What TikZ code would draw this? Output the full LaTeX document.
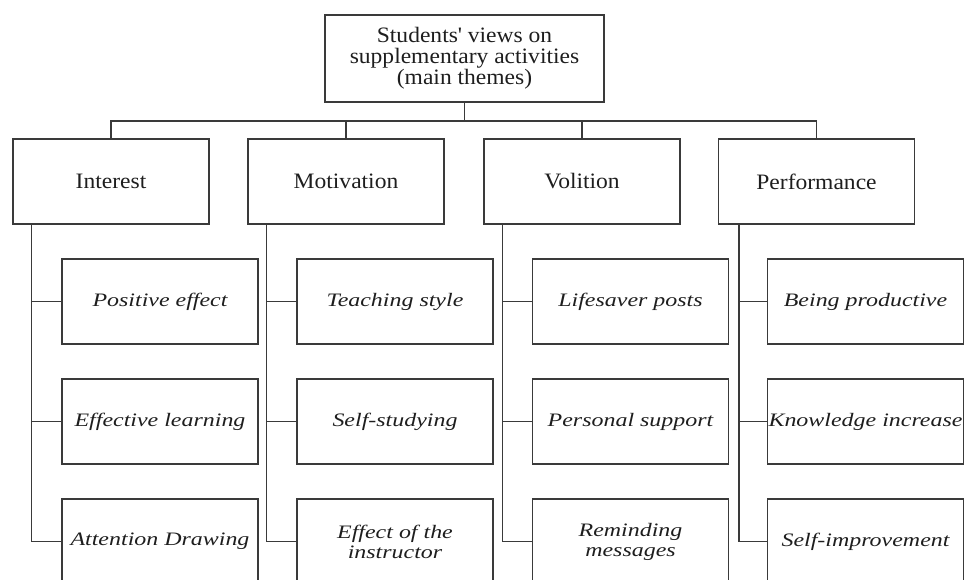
\documentclass[tikz,border=0pt]{standalone}
\usepackage{fontspec}
\setmainfont{Liberation Serif}[FakeStretch=1.07]
\newfontface\subit{Liberation Serif Italic}[FakeStretch=1.26]
\usetikzlibrary{positioning}

\definecolor{linegray}{HTML}{3A3A3A}
\definecolor{textgray}{HTML}{1E1E1E}

\tikzset{
  rootbox/.style={draw=linegray, line width=1.2pt, inner sep=0pt, align=center,
    minimum width=279pt, minimum height=87pt, text=textgray,
    font=\fontsize{22pt}{21pt}\selectfont},
  themebox/.style={draw=linegray, line width=1.2pt, inner sep=0pt, align=center,
    minimum width=196pt, minimum height=85pt, text=textgray,
    font=\fontsize{22pt}{21pt}\selectfont},
  subbox/.style={draw=linegray, line width=1.2pt, inner sep=0pt, align=center,
    minimum width=196pt, minimum height=85pt, text=textgray,
    font=\subit\fontsize{19pt}{20pt}\selectfont},
  link/.style={draw=linegray, line width=1.2pt}
}

\begin{document}
\begin{tikzpicture}[x=1pt, y=-1pt]
\useasboundingbox (0,0) rectangle (965,579);

% main theme
\node[rootbox] (root) at (464.5,58.5) {Students\textquotesingle{} views on\\supplementary activities\\(main themes)};

% themes
\node[themebox] (int)  at (111,181.5)   {Interest};
\node[themebox] (mot)  at (346,181.5)   {Motivation};
\node[themebox] (vol)  at (582,181.5)   {Volition};
\node[themebox] (perf) at (816.5,181.5) {Performance};

% sub themes
\node[subbox] (int1) at (160,301.5) {Positive effect};
\node[subbox] (int2) at (160,421.5) {Effective learning};
\node[subbox] (int3) at (160,541.5) {Attention Drawing};

\node[subbox] (mot1) at (395,301.5) {Teaching style};
\node[subbox] (mot2) at (395,421.5) {Self-studying};
\node[subbox] (mot3) at (395,541.5) {Effect of the\\instructor};

\node[subbox] (vol1) at (630.5,301.5) {Lifesaver posts};
\node[subbox] (vol2) at (630.5,421.5) {Personal support};
\node[subbox] (vol3) at (630.5,541.5) {Reminding\\messages};

\node[subbox] (perf1) at (865.5,301.5) {Being productive};
\node[subbox] (perf2) at (865.5,421.5) {Knowledge increase};
\node[subbox] (perf3) at (865.5,541.5) {Self-improvement};

% bus from the root to the themes
\coordinate (bus) at (0,121);
\draw[link] (root.south) -- (root.south |- bus);
\draw[link] (int.north) |- (bus -| perf.north) -- (perf.north);
\draw[link] (mot.north) -- (mot.north |- bus);
\draw[link] (vol.north) -- (vol.north |- bus);

% trunks down to the sub themes
\coordinate (intT)  at ([xshift=19pt]int.south west);
\coordinate (motT)  at ([xshift=19pt]mot.south west);
\coordinate (volT)  at ([xshift=19pt]vol.south west);
\coordinate (perfT) at ([xshift=21pt]perf.south west);

\draw[link] (intT) |- (int1.west);  \draw[link] (intT) |- (int2.west);  \draw[link] (intT) |- (int3.west);
\draw[link] (motT) |- (mot1.west);  \draw[link] (motT) |- (mot2.west);  \draw[link] (motT) |- (mot3.west);
\draw[link] (volT) |- (vol1.west);  \draw[link] (volT) |- (vol2.west);  \draw[link] (volT) |- (vol3.west);
\draw[link] (perfT) |- (perf1.west); \draw[link] (perfT) |- (perf2.west); \draw[link] (perfT) |- (perf3.west);
\end{tikzpicture}
\end{document}
